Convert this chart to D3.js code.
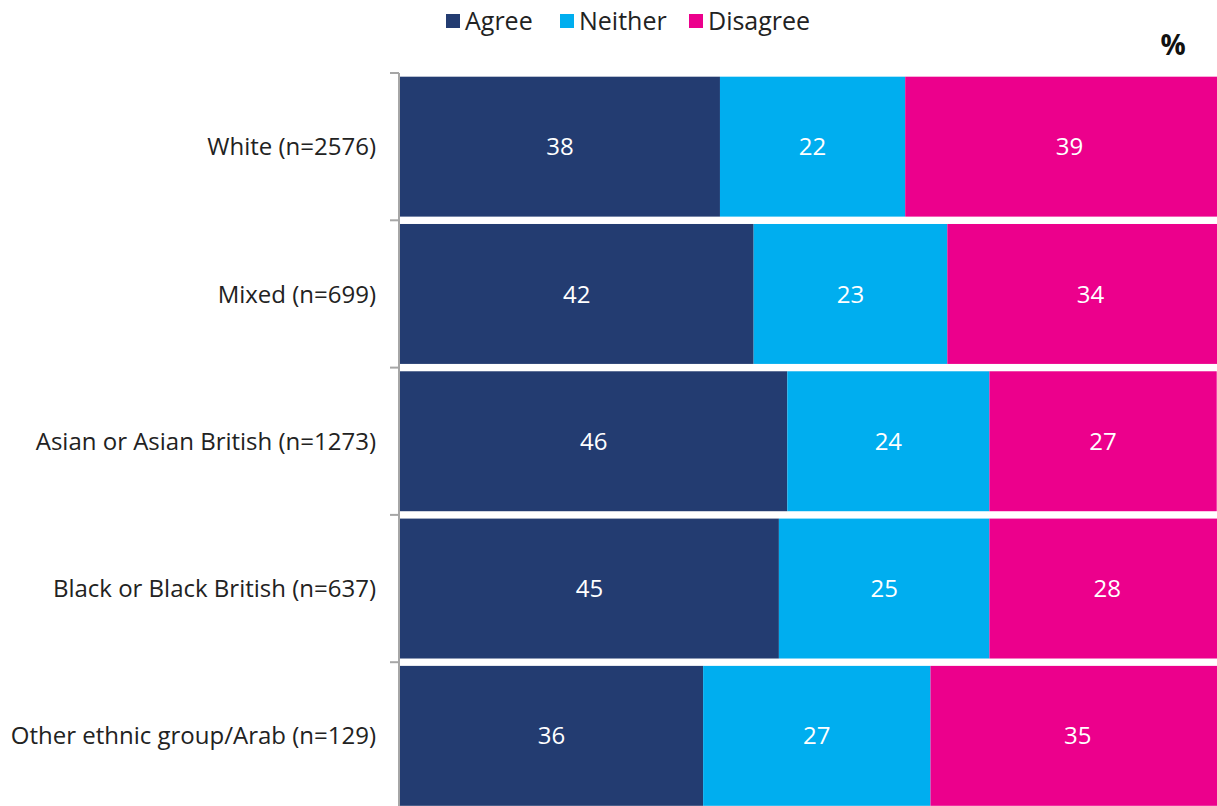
<!DOCTYPE html>
<html>
<head>
<meta charset="utf-8">
<script src="https://cdn.jsdelivr.net/npm/d3@7/dist/d3.min.js"></script>
<style>
  html, body { margin: 0; padding: 0; background: #fff; overflow: hidden; }
  svg { display: block; font-family: "Open Sans", Lato, sans-serif; }
</style>
</head>
<body>
<svg id="chart" width="1217" height="806"></svg>
<script>
// Survey responses by ethnic group (%)
const categories = [
  "White (n=2576)",
  "Mixed (n=699)",
  "Asian or Asian British (n=1273)",
  "Black or Black British (n=637)",
  "Other ethnic group/Arab (n=129)"
];
const seriesNames = ["Agree", "Neither", "Disagree"];
const agree    = [38, 42, 46, 45, 36];
const neither  = [22, 23, 24, 25, 27];
const disagree = [39, 34, 27, 28, 35];
const colors = ["#233c71", "#00aeef", "#ec008c"];

const rows = categories.map((c, i) => ({
  category: c, Agree: agree[i], Neither: neither[i], Disagree: disagree[i]
}));

const svg = d3.select("#chart");
const W = 1217, H = 806;

const x = d3.scaleLinear().domain([0, 100]).range([400, 1242]);
const y = d3.scaleBand().domain(categories).range([73, 73 + 147.3 * categories.length]).paddingInner(0.05).paddingOuter(0.025);
const color = d3.scaleOrdinal().domain(seriesNames).range(colors);

const stack = d3.stack().keys(seriesNames)(rows);

const plot = svg.append("g");

const layers = plot.selectAll("g.layer")
  .data(stack)
  .join("g")
  .attr("class", "layer")
  .attr("fill", d => color(d.key));

layers.selectAll("rect")
  .data(d => d)
  .join("rect")
  .attr("x", d => x(d[0]))
  .attr("y", d => y(d.data.category))
  .attr("width", d => x(d[1]) - x(d[0]))
  .attr("height", y.bandwidth());

// value labels centred in each segment
layers.selectAll("text")
  .data(d => d.map(v => ({ key: d.key, v })))
  .join("text")
  .attr("x", d => (x(d.v[0]) + x(d.v[1])) / 2)
  .attr("y", d => y(d.v.data.category) + y.bandwidth() / 2)
  .attr("dy", "0.36em")
  .attr("text-anchor", "middle")
  .attr("fill", "#fff")
  .attr("font-size", 24)
  .text(d => d.v.data[d.key]);

// category axis with ticks between bands
const axisX = 399;
const boundaries = categories.map(c => y(c) - y.step() * y.paddingInner() / 2);
svg.append("line")
  .attr("x1", axisX).attr("x2", axisX)
  .attr("y1", boundaries[0]).attr("y2", H)
  .attr("stroke", "#a6a6a6").attr("stroke-width", 2);
svg.selectAll("line.tick")
  .data(boundaries)
  .join("line")
  .attr("class", "tick")
  .attr("x1", axisX - 9).attr("x2", axisX)
  .attr("y1", d => d).attr("y2", d => d)
  .attr("stroke", "#a6a6a6").attr("stroke-width", 2);

svg.selectAll("text.cat")
  .data(categories)
  .join("text")
  .attr("class", "cat")
  .attr("x", 376)
  .attr("y", d => y(d) + y.bandwidth() / 2)
  .attr("dy", "0.36em")
  .attr("text-anchor", "end")
  .attr("fill", "#222")
  .attr("font-size", 24)
  .text(d => d);

// legend
const legendX = [446, 560, 689];
const legend = svg.selectAll("g.legend")
  .data(seriesNames)
  .join("g")
  .attr("class", "legend")
  .attr("transform", (d, i) => `translate(${legendX[i]},14)`);
legend.append("rect")
  .attr("width", 14).attr("height", 14)
  .attr("fill", d => color(d));
legend.append("text")
  .attr("x", 19).attr("y", 7)
  .attr("dy", "0.36em")
  .attr("fill", "#222")
  .attr("font-size", 25)
  .text(d => d);

svg.append("text")
  .attr("x", 1173).attr("y", 55)
  .attr("text-anchor", "middle")
  .attr("font-weight", "bold")
  .attr("font-size", 28)
  .attr("fill", "#111")
  .text("%");
</script>
</body>
</html>
